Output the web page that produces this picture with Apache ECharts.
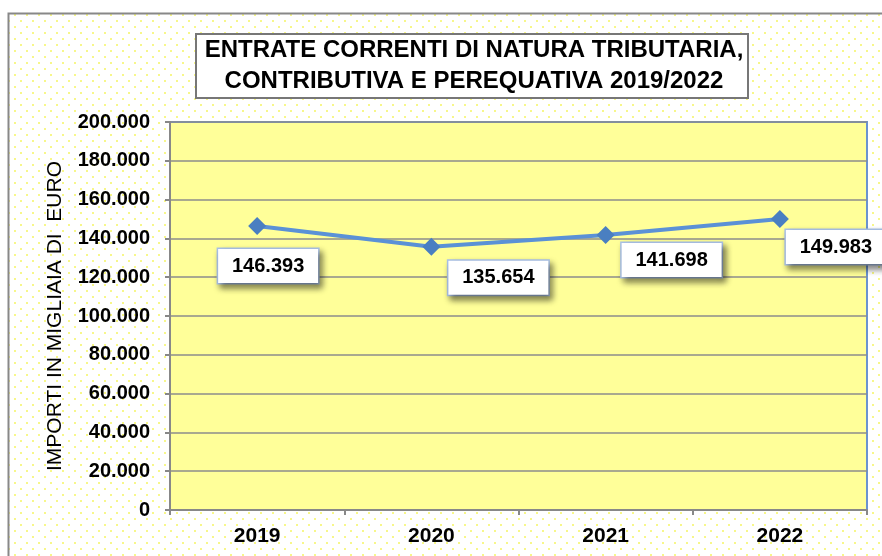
<!DOCTYPE html>
<html>
<head>
<meta charset="utf-8">
<script src="https://cdn.jsdelivr.net/npm/echarts@6/dist/echarts.min.js"></script>
<style>
  html, body { margin: 0; padding: 0; background: #fff; }
  #chart { width: 882px; height: 556px; }
</style>
</head>
<body>
<div id="chart"></div>
<script>
const years = ['2019', '2020', '2021', '2022']
const importi = [146393, 135654, 141698, 149983]
const labelOffsets = [[11, 40], [67, 31], [66, 25], [56, 28]]
const titleLines = ['ENTRATE CORRENTI DI NATURA TRIBUTARIA,', 'CONTRIBUTIVA E PEREQUATIVA 2019/2022']

const font = 'Liberation Sans, Arial, sans-serif'
const fmt = v => String(v).replace(/\B(?=(\d{3})+(?!\d))/g, '.')

// dotted pattern for the outer background
const dots = document.createElement('canvas')
dots.width = 12
dots.height = 12
const dc = dots.getContext('2d')
dc.fillStyle = '#fff'
dc.fillRect(0, 0, 12, 12)
dc.fillStyle = '#f7f78a'
dc.fillRect(2, 2, 2, 2)
dc.fillRect(8, 8, 2, 2)

const chart = echarts.init(document.getElementById('chart'))
chart.setOption({
  backgroundColor: '#fff',
  animation: false,
  graphic: [
    {
      type: 'rect', z: -10, silent: true,
      shape: { x: 8.5, y: 13.5, width: 900, height: 600 },
      style: { fill: { image: dots, repeat: 'repeat' }, stroke: '#888', lineWidth: 2 }
    },
    {
      type: 'rect', z: 10,
      shape: { x: 196, y: 34, width: 552, height: 64 },
      style: { fill: '#fff', stroke: '#777', lineWidth: 2 }
    },
    {
      type: 'text', z: 11,
      x: 474, y: 66,
      style: {
        text: titleLines.join('\n'),
        fontFamily: font,
        fontWeight: 'bold', fontSize: 24, lineHeight: 31,
        fill: '#000', align: 'center', verticalAlign: 'middle'
      }
    }
  ],
  grid: {
    left: 170, top: 122, right: 15, bottom: 46,
    show: true, backgroundColor: '#ffff99',
    borderColor: '#6b93cf', borderWidth: 2
  },
  xAxis: {
    type: 'category',
    data: years,
    boundaryGap: true,
    axisLine: { lineStyle: { color: '#888', width: 2 } },
    axisTick: { show: true, length: 5, lineStyle: { color: '#888', width: 2 } },
    axisLabel: {
      margin: 16, color: '#000', fontWeight: 'bold', fontSize: 21,
      fontFamily: font
    }
  },
  yAxis: {
    type: 'value',
    min: 0, max: 200000, interval: 20000,
    name: 'IMPORTI IN MIGLIAIA DI  EURO',
    nameLocation: 'middle', nameGap: 104, nameRotate: 90,
    nameTextStyle: { color: '#000', fontSize: 21, fontFamily: font },
    axisLine: { show: true, lineStyle: { color: '#888', width: 2 } },
    axisTick: { show: true, length: 5, lineStyle: { color: '#888', width: 2 } },
    splitLine: { lineStyle: { color: '#8c8c8c', width: 1.5 } },
    axisLabel: {
      margin: 20, color: '#000', fontWeight: 'bold', fontSize: 20,
      fontFamily: font,
      formatter: v => fmt(v)
    }
  },
  series: [{
    type: 'line',
    data: importi.map((v, i) => ({
      value: v,
      label: { offset: labelOffsets[i] }
    })),
    symbol: 'diamond',
    symbolSize: 18,
    itemStyle: { color: '#4a7fc1' },
    lineStyle: { color: '#5b91d6', width: 4 },
    z: 5,
    label: {
      show: true,
      position: 'inside',
      formatter: p => fmt(p.value),
      color: '#000', fontWeight: 'bold', fontSize: 20,
      fontFamily: font,
      backgroundColor: '#fff',
      borderColor: '#a9c1e6', borderWidth: 1.5,
      width: 100, height: 34, lineHeight: 34, align: 'center',
      padding: 0,
      shadowColor: 'rgba(0,0,0,0.45)', shadowBlur: 6,
      shadowOffsetX: 3, shadowOffsetY: 4
    }
  }]
})
</script>
</body>
</html>
